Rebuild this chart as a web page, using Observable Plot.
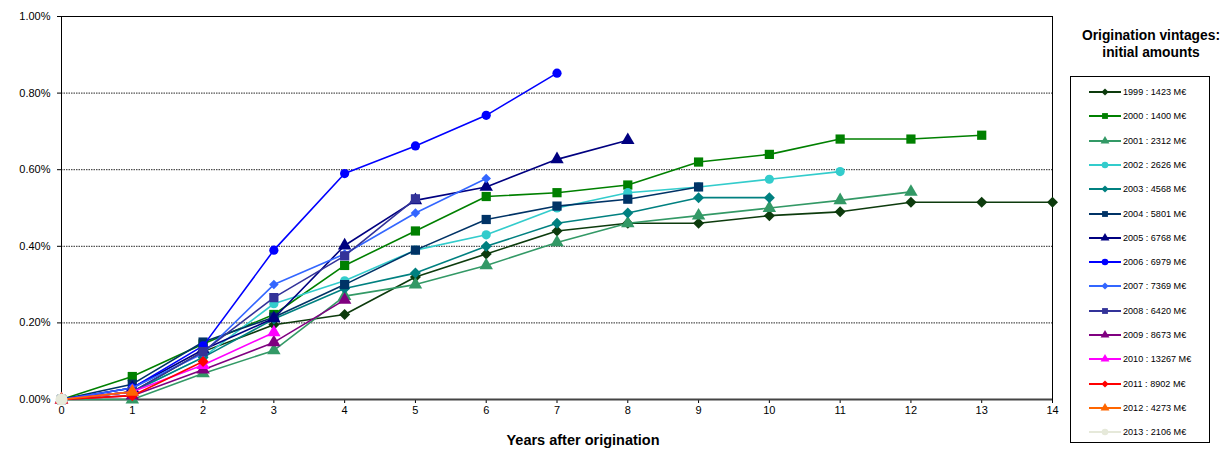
<!DOCTYPE html>
<html>
<head>
<meta charset="utf-8">
<script src="https://cdn.jsdelivr.net/npm/d3@7"></script>
<script src="https://cdn.jsdelivr.net/npm/@observablehq/plot@0.6"></script>
<style>
  body { margin: 0; background: #fff; font-family: "Liberation Sans", Arial, sans-serif; }
  #wrap { position: relative; width: 1223px; height: 449px; }
  #legtitle { position: absolute; left: 1068px; width: 166px; top: 27px; text-align: center; font-weight: bold; font-size: 13.8px; line-height: 17px; }
  #legbox { position: absolute; left: 1070px; top: 76px; width: 140px; height: 367px; border: 1px solid #000; box-sizing: border-box; }
  .item { position: absolute; left: 0; height: 12px; display: flex; align-items: center; font-size: 9.1px; white-space: nowrap; }
  .item svg { margin-left: 18px; margin-right: 2px; }
</style>
</head>
<body>
<div id="wrap">
  <div id="chart"></div>
  <div id="legtitle">Origination vintages:<br>initial amounts</div>
  <div id="legbox"></div>
</div>
<script>
// Vintages, initial amounts (M€), and cumulative default rates (%) by years after origination
const vintages = ["1999","2000","2001","2002","2003","2004","2005","2006","2007","2008","2009","2010","2011","2012","2013"];
const amounts = [1423, 1400, 2312, 2626, 4568, 5801, 6768, 6979, 7369, 6420, 8673, 13267, 8902, 4273, 2106];
const yearsAfter = [0,1,2,3,4,5,6,7,8,9,10,11,12,13,14];
const yTicks = [0, 0.2, 0.4, 0.6, 0.8, 1.0];

const r1999 = [0, 0.02, 0.125, 0.195, 0.222, 0.32, 0.38, 0.44, 0.46, 0.46, 0.48, 0.49, 0.515, 0.515, 0.515];
const r2000 = [0, 0.06, 0.145, 0.222, 0.35, 0.44, 0.53, 0.54, 0.56, 0.62, 0.64, 0.68, 0.68, 0.69];
const r2001 = [0, 0.00, 0.068, 0.128, 0.27, 0.30, 0.35, 0.41, 0.46, 0.48, 0.50, 0.52, 0.542];
const r2002 = [0, 0.02, 0.11, 0.25, 0.31, 0.39, 0.43, 0.50, 0.54, 0.555, 0.575, 0.595];
const r2003 = [0, 0.02, 0.11, 0.21, 0.29, 0.33, 0.40, 0.46, 0.487, 0.527, 0.527];
const r2004 = [0, 0.04, 0.15, 0.215, 0.30, 0.39, 0.47, 0.505, 0.523, 0.555];
const r2005 = [0, 0.03, 0.13, 0.212, 0.402, 0.52, 0.555, 0.627, 0.677];
const r2006 = [0, 0.03, 0.14, 0.39, 0.59, 0.662, 0.742, 0.852];
const r2007 = [0, 0.03, 0.12, 0.30, 0.38, 0.487, 0.577];
const r2008 = [0, 0.02, 0.125, 0.266, 0.375, 0.524];
const r2009 = [0, 0.01, 0.078, 0.149, 0.26];
const r2010 = [0, 0.02, 0.09, 0.175];
const r2011 = [0, 0.01, 0.099];
const r2012 = [0, 0.02];
const r2013 = [0];

const rates = [r1999, r2000, r2001, r2002, r2003, r2004, r2005, r2006, r2007, r2008, r2009, r2010, r2011, r2012, r2013];
const colors = ["#0d3b0d","#008000","#339966","#33cccc","#008080","#003366","#000080","#0000ff","#3366ff","#333399","#800080","#ff00ff","#ff0000","#ff6600","#e6e9da"];
const symbols = ["diamond","square","triangle","circle","diamond","square","triangle","circle","diamond","square","triangle","triangle","diamond","triangle","circle"];
const sizes = {diamond: 4.4, square: 5.2, triangle: 5, circle: 4.6};

// Excel-style diamond: a square rotated 45°
const squareDiamond = {
  draw(ctx, size) {
    const h = Math.sqrt(size / 2);
    ctx.moveTo(0, -h); ctx.lineTo(h, 0); ctx.lineTo(0, h); ctx.lineTo(-h, 0); ctx.closePath();
  }
};
const symOf = s => s === "diamond" ? squareDiamond : s;

const marks = [];
marks.push(Plot.ruleY([0.2, 0.4, 0.6, 0.8], {stroke: "#000", strokeDasharray: "1.5,1", strokeWidth: 1, strokeOpacity: 0.85}));
marks.push(Plot.frame({stroke: "#000", strokeWidth: 1}));
marks.push(Plot.axisY({ticks: yTicks, tickFormat: d => d.toFixed(2) + "%", tickSize: 4, tickPadding: 7, label: null, fontSize: 11}));
marks.push(Plot.axisX({ticks: yearsAfter, tickFormat: d => String(d), tickSize: 4, tickPadding: 3, label: null, fontSize: 11}));
marks.push(Plot.ruleY([0], {stroke: "#444", strokeWidth: 2}));
marks.push(Plot.ruleX([0], {stroke: "#000", strokeWidth: 1}));
marks.push(Plot.text(["Years after origination"], {frameAnchor: "bottom", dy: 41, dx: 26, lineAnchor: "middle", fontWeight: "bold", fontSize: 14.5, fill: "#000"}));

vintages.forEach((v, i) => {
  const pts = rates[i].map((val, k) => ({x: yearsAfter[k], y: val}));
  const r = (v === "2007") ? 3.8 : sizes[symbols[i]];
  if (pts.length > 1) marks.push(Plot.line(pts, {x: "x", y: "y", stroke: colors[i], strokeWidth: 1.6}));
  marks.push(Plot.dot(pts, {x: "x", y: "y", fill: colors[i], symbol: symOf(symbols[i]), r: (v === "2013") ? 6 : r, stroke: "none"}));
});

const chart = Plot.plot({
  width: 1223,
  height: 449,
  marginLeft: 61,
  marginRight: 171,
  marginTop: 16,
  marginBottom: 50,
  x: {domain: [0, 14]},
  y: {domain: [0, 1.0]},
  style: {fontFamily: "'Liberation Sans', Arial, sans-serif", fontSize: "11px", color: "#000", background: "#fff"},
  marks
});
document.getElementById("chart").appendChild(chart);

// Legend
const box = document.getElementById("legbox");
const symMap = {square: d3.symbolSquare, triangle: d3.symbolTriangle, circle: d3.symbolCircle, diamond: squareDiamond};
vintages.forEach((v, i) => {
  const div = document.createElement("div");
  div.className = "item";
  div.style.top = (9 + i * 24.3) + "px";
  const sz = symbols[i] === "diamond" ? 26 : 34;
  const path = d3.symbol(symMap[symbols[i]], sz)();
  div.innerHTML = `<svg width="32" height="12"><line x1="0" x2="32" y1="6" y2="6" stroke="${colors[i]}" stroke-width="2"/><path d="${path}" transform="translate(16,6)" fill="${colors[i]}"/></svg><span>${v} : ${amounts[i]} M€</span>`;
  box.appendChild(div);
});
</script>
</body>
</html>
